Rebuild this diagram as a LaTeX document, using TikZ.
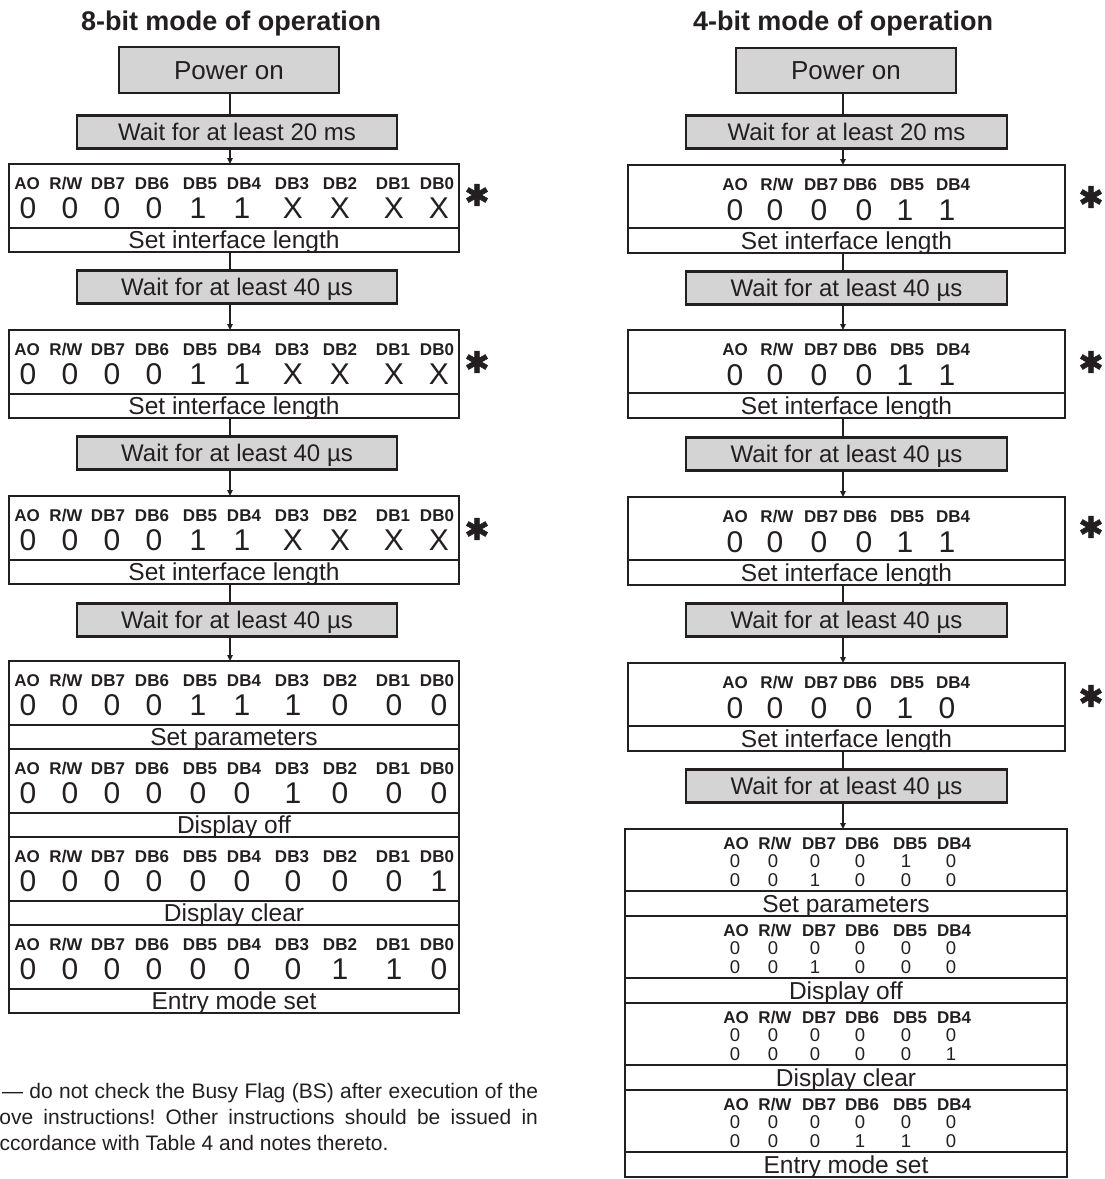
\documentclass[tikz,border=0pt]{standalone}
\usepackage{fontspec}
\setmainfont{Liberation Sans}
\newfontfamily\symfont[FakeBold=1.6]{DejaVu Sans}
\usetikzlibrary{arrows.meta}
\definecolor{ink}{RGB}{35,31,32}
\definecolor{boxgray}{RGB}{212,212,212}
\def\RW{R/W}
\frenchspacing
\tikzset{
  every node/.style={inner sep=0pt, outer sep=0pt, text=ink},
  frame/.style={draw=ink, line width=2.2pt},
  ttl/.style={font=\bfseries\fontsize{27}{30}\selectfont, text height=19.4pt, text depth=0pt},
  pwtext/.style={font=\fontsize{26}{30}\selectfont, text height=18.7pt, text depth=0pt},
  wtext/.style={font=\fontsize{24}{28}\selectfont, text height=17.3pt, text depth=0pt},
  captext/.style={font=\fontsize{24.5}{28}\selectfont, text height=17.6pt, text depth=0pt},
  lab/.style={font=\bfseries\fontsize{17}{19}\selectfont, text height=12.2pt, text depth=0pt},
  val/.style={font=\fontsize{30}{32}\selectfont, text height=21.5pt, text depth=0pt},
  sval/.style={font=\fontsize{18.5}{20}\selectfont, text height=13.3pt, text depth=0pt},
  graybox/.style={frame, fill=boxgray},
  conn/.style={draw=ink, line width=2pt},
  arr/.style={-{Triangle[length=6pt,width=5.5pt]}},
  ast/.style={font=\symfont\fontsize{30}{32}\selectfont},
  notetext/.style={font=\fontsize{21}{26}\selectfont, anchor=base west},
}
% 8-bit register: name, top, values, caption
\newcommand\eightreg[4]{%
  \node[frame, fill=white, minimum width=450pt, minimum height=64pt] (#1) at (234,#2+32) {};
  \node[frame, fill=white, minimum width=450pt, minimum height=24pt, captext] (#1c) at (234,#2+76) {#4};
  \foreach \lx/\lt [count=\i] in {27/AO,66/\RW,108/DB7,152/DB6,200/DB5,244/DB4,292/DB3,340/DB2,393/DB1,437/DB0}
    \node[lab] (#1l\i) at (\lx,#2+19) {\lt};
  \foreach \v [count=\i] in {#3} {
    \pgfmathsetmacro\vx{{28,70,112,154,198,242,293,340,394,439}[\i-1]}
    \node[val] (#1v\i) at (\vx,#2+44) {\v};
  }
}
% 4-bit single register: name, top, values, caption
\newcommand\fourreg[4]{%
  \node[frame, fill=white, minimum width=437pt, minimum height=63pt] (#1) at (846.5,#2+31.5) {};
  \node[frame, fill=white, minimum width=437pt, minimum height=25pt, captext] (#1c) at (846.5,#2+75.5) {#4};
  \foreach \lx/\lt [count=\i] in {735/AO,777/\RW,821/DB7,860/DB6,907/DB5,953/DB4}
    \node[lab] (#1l\i) at (\lx,#2+19) {\lt};
  \foreach \v [count=\i] in {#3} {
    \pgfmathsetmacro\vx{{735,775,819,864,905,947}[\i-1]}
    \node[val] (#1v\i) at (\vx,#2+45) {\v};
  }
}
% 4-bit stacked register: name, top, row1, row2, caption
\newcommand\fourstack[5]{%
  \node[frame, fill=white, minimum width=442pt, minimum height=62pt] (#1) at (846,#2+31) {};
  \node[frame, fill=white, minimum width=442pt, minimum height=25pt, captext] (#1c) at (846,#2+74.5) {#5};
  \foreach \lx/\lt [count=\i] in {736/AO,775/\RW,819/DB7,862/DB6,910/DB5,954/DB4}
    \node[lab] (#1l\i) at (\lx,#2+14) {\lt};
  \foreach \v [count=\i] in {#3} {
    \pgfmathsetmacro\vx{{735,773,815,860,906,951}[\i-1]}
    \node[sval] (#1a\i) at (\vx,#2+32) {\v};
  }
  \foreach \v [count=\i] in {#4} {
    \pgfmathsetmacro\vx{{735,773,815,860,906,951}[\i-1]}
    \node[sval] (#1b\i) at (\vx,#2+51) {\v};
  }
}
\begin{document}
\begin{tikzpicture}[x=1pt,y=-1pt]
\useasboundingbox (0,0) rectangle (1105,1179);
\fill[white] (0,0) rectangle (1105,1179);
\coordinate (axL) at (230,0);
\coordinate (axR) at (843,0);

% ---------- 8-bit column ----------
\node[ttl] (t8) at (231,21) {8-bit mode of operation};
\node[graybox, minimum width=220pt, minimum height=46pt, pwtext] (pw8) at (229,70) {Power on};
\node[graybox, minimum width=320pt, minimum height=33pt, wtext] (w81) at (237,132) {Wait for at least 20 ms};
\eightreg{r81}{164}{0,0,0,0,1,1,X,X,X,X}{Set interface length}
\node[graybox, minimum width=320pt, minimum height=33pt, wtext] (w82) at (237,287) {Wait for at least 40 µs};
\eightreg{r82}{330}{0,0,0,0,1,1,X,X,X,X}{Set interface length}
\node[graybox, minimum width=320pt, minimum height=33pt, wtext] (w83) at (237,453) {Wait for at least 40 µs};
\eightreg{r83}{496}{0,0,0,0,1,1,X,X,X,X}{Set interface length}
\node[graybox, minimum width=320pt, minimum height=33pt, wtext] (w84) at (237,620) {Wait for at least 40 µs};
\eightreg{s81}{661}{0,0,0,0,1,1,1,0,0,0}{Set parameters}
\eightreg{s82}{749}{0,0,0,0,0,0,1,0,0,0}{Display off}
\eightreg{s83}{837}{0,0,0,0,0,0,0,0,0,1}{Display clear}
\eightreg{s84}{925}{0,0,0,0,0,0,0,1,1,0}{Entry mode set}

\node[ast] (a81) at (477,195) {✱};
\node[ast] (a82) at (477,362) {✱};
\node[ast] (a83) at (477,529) {✱};

\foreach \a/\b in {pw8/w81, r81c/w82, r82c/w83, r83c/w84}
  \draw[conn] (axL |- \a.south) -- (axL |- \b.north);
\foreach \a/\b in {w81/r81, w82/r82, w83/r83, w84/s81}
  \draw[conn, arr] (axL |- \a.south) -- (axL |- \b.north);

% ---------- 4-bit column ----------
\node[ttl] (t4) at (843,21) {4-bit mode of operation};
\node[graybox, minimum width=220pt, minimum height=45pt, pwtext] (pw4) at (846,70.5) {Power on};
\node[graybox, minimum width=321pt, minimum height=33pt, wtext] (w41) at (846.5,132) {Wait for at least 20 ms};
\fourreg{r41}{165}{0,0,0,0,1,1}{Set interface length}
\node[graybox, minimum width=321pt, minimum height=33pt, wtext] (w42) at (846.5,288) {Wait for at least 40 µs};
\fourreg{r42}{330}{0,0,0,0,1,1}{Set interface length}
\node[graybox, minimum width=321pt, minimum height=33pt, wtext] (w43) at (846.5,454) {Wait for at least 40 µs};
\fourreg{r43}{497}{0,0,0,0,1,1}{Set interface length}
\node[graybox, minimum width=321pt, minimum height=33pt, wtext] (w44) at (846.5,620) {Wait for at least 40 µs};
\fourreg{r44}{663}{0,0,0,0,1,0}{Set interface length}
\node[graybox, minimum width=321pt, minimum height=33pt, wtext] (w45) at (846.5,786) {Wait for at least 40 µs};
\fourstack{s41}{829}{0,0,0,0,1,0}{0,0,1,0,0,0}{Set parameters}
\fourstack{s42}{916}{0,0,0,0,0,0}{0,0,1,0,0,0}{Display off}
\fourstack{s43}{1003}{0,0,0,0,0,0}{0,0,0,0,0,1}{Display clear}
\fourstack{s44}{1090}{0,0,0,0,0,0}{0,0,0,1,1,0}{Entry mode set}

\node[ast] (a41) at (1091,197) {✱};
\node[ast] (a42) at (1091,362) {✱};
\node[ast] (a43) at (1091,527) {✱};
\node[ast] (a44) at (1091,696) {✱};

\foreach \a/\b in {pw4/w41, r41c/w42, r42c/w43, r43c/w44, r44c/w45}
  \draw[conn] (axR |- \a.south) -- (axR |- \b.north);
\foreach \a/\b in {w41/r41, w42/r42, w43/r43, w44/r44, w45/s41}
  \draw[conn, arr] (axR |- \a.south) -- (axR |- \b.north);

% ---------- note ----------
\node[notetext] (n1) at (2,1098) {\makebox[536pt][s]{— do not check the Busy Flag (BS) after execution of the}};
\node[notetext] (n2) at (-24,1124) {\makebox[562pt][s]{above instructions! Other instructions should be issued in}};
\node[notetext] (n3) at (-12,1150) {accordance with Table 4 and notes thereto.};
\end{tikzpicture}
\end{document}
